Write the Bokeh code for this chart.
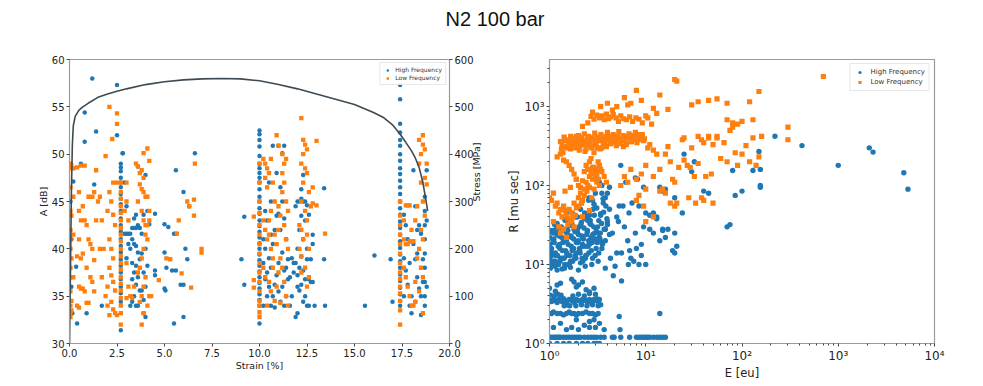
import math
from bokeh.plotting import figure
from bokeh.models import (Range1d, LinearAxis, FixedTicker, PrintfTickFormatter,
                          Div, Legend, LegendItem)
from bokeh.layouts import column, row
from bokeh.embed import file_html
from bokeh.resources import INLINE

# ---------------- data: left panel (A vs strain) ----------------
hf_strain = (
    [1.2, 2.5, 0.8, 1.4, 2.5, 0.8, 0.6, 0.2, 1.3, 0.35, 0.4, 0.9, 0.15, 1.7, 0.05, 0.1, 0.1]
    + [2.7] * 24 + [2.8, 2.8]
    + [2.9, 3.0, 3.1, 3.2, 3.3, 3.4, 3.5, 3.6, 3.7, 3.8, 3.3, 3.4, 3.5, 3.2, 3.6, 3.0, 3.3, 3.5, 3.4, 3.6,
       3.3, 3.5, 3.7, 3.4, 3.2, 3.3, 3.6, 3.9, 4.0, 3.8, 4.0, 3.9, 4.1, 4.0, 3.9, 4.1, 4.0, 3.6, 2.9, 3.0,
       3.1, 3.7, 3.8, 3.4, 3.5, 4.2, 3.9, 3.5, 4.5]
    + [5.6, 6.0, 6.3, 6.6, 5.0, 5.2, 5.6, 5.0, 5.1, 4.5, 5.4, 5.6, 5.0, 5.05, 5.5, 6.0, 6.1, 6.2, 5.85, 6.0,
       9.05, 9.2, 9.2, 4.5, 5.5]
    + [10.0] * 32
    + [10.3, 10.4, 10.2, 10.3, 10.5, 10.4, 10.3, 10.5, 10.4, 10.2, 10.6, 10.7, 10.8, 10.9, 10.6, 10.7, 10.8,
       10.9, 10.6, 10.7, 11.0, 11.2, 11.3, 11.1, 11.2, 11.0, 11.3, 11.1, 11.4, 11.2, 11.0, 11.3, 11.5, 11.2,
       11.4, 11.1, 11.3, 11.6, 11.5, 11.6, 10.5, 10.9, 10.2, 10.8, 11.0, 11.4, 10.6, 11.7, 11.8, 11.7]
    + [12.0, 12.1, 12.2, 12.3, 12.4, 11.9, 12.5, 12.2, 12.3, 12.4, 12.1, 12.3, 12.0, 12.2, 12.5, 11.9, 12.1,
       12.3, 12.0, 12.4, 12.2, 12.6, 12.7, 12.8, 12.1, 12.4, 12.5, 12.6, 12.9, 12.0, 11.9, 12.3, 12.7, 12.8,
       12.6, 12.8, 12.5, 12.2, 12.0, 11.8]
    + [13.4, 13.4, 13.45, 15.55, 16.05, 16.9, 17.0]
    + [17.4] * 30
    + [17.6, 17.7, 17.8, 17.6, 17.7, 17.8, 17.6, 17.9, 18.0, 18.1, 18.2, 18.3, 18.1, 18.2, 18.3, 18.4, 18.5,
       18.6, 18.7, 18.7, 18.7, 18.7, 18.7, 18.7, 18.7, 18.7, 18.7, 18.8, 18.8, 18.8, 18.6, 18.5, 18.4, 18.0,
       17.9, 18.2, 18.5, 18.3]
)
hf_amp = (
    [58.0, 57.3, 54.4, 52.4, 52.0, 51.3, 49.0, 47.1, 46.8, 38.1, 32.1, 33.2, 33.2, 34.0, 45.0, 41.0, 36.0]
    + [49.0, 48.6, 48.2, 47.5, 47.0, 46.5, 45.8, 45.3, 44.7, 44.0, 43.2, 42.5, 41.8, 41.0, 40.3, 39.6,
       38.9, 38.2, 37.5, 36.8, 36.0, 35.3, 34.4, 31.4, 50.1, 50.1]
    + [41.6, 41.6, 41.6, 41.6, 42.2, 42.2, 42.2, 42.5, 42.2, 41.6, 41.0, 40.5, 40.3, 40.0, 39.6, 39.0, 38.5,
       38.2, 37.5, 37.0, 36.8, 36.2, 35.6, 35.0, 34.0, 34.4, 34.0, 33.2, 32.8, 35.6, 36.0, 37.5, 38.2, 40.0,
       43.6, 44.0, 47.8, 48.7, 47.0, 44.5, 40.5, 38.9, 39.5, 43.2, 43.6, 42.6, 34.6, 34.0, 43.7]
    + [48.3, 46.0, 44.5, 50.1, 42.6, 42.3, 41.6, 39.6, 38.0, 37.7, 37.7, 37.7, 35.8, 35.6, 32.1, 32.8, 40.0,
       38.9, 36.2, 36.2, 38.9, 43.4, 36.2, 37.2, 41.6]
    + [52.5, 52.1, 51.5, 50.8, 49.8, 49.0, 48.5, 48.0, 47.5, 47.0, 46.3, 45.5, 45.0, 44.3, 43.7, 43.0, 42.4,
       41.8, 41.2, 40.6, 40.0, 39.4, 38.8, 38.2, 37.6, 37.0, 36.4, 35.8, 35.2, 34.6, 34.0, 32.1]
    + [44.0, 43.0, 41.0, 40.0, 39.0, 37.5, 36.8, 36.0, 35.0, 34.0, 34.0, 35.0, 36.2, 37.2, 38.0, 40.5, 42.0,
       43.5, 45.0, 50.9, 50.9, 50.1, 50.9, 46.5, 45.0, 43.7, 43.2, 42.0, 41.0, 39.6, 38.5, 37.7, 36.8, 36.0,
       35.0, 34.4, 34.0, 34.0, 38.9, 37.0, 47.0, 48.0, 38.5, 33.8, 35.5, 38.0, 41.5, 39.0, 38.5, 35.0]
    + [45.0, 45.0, 45.3, 45.0, 45.0, 44.5, 44.6, 46.3, 47.8, 43.0, 42.0, 41.0, 40.0, 39.2, 38.9, 38.5, 38.0,
       37.7, 37.2, 36.8, 36.2, 36.8, 36.5, 36.5, 35.6, 35.0, 34.0, 34.0, 34.0, 33.2, 32.8, 34.4, 38.9, 40.5,
       43.6, 41.5, 40.0, 43.5, 36.0, 37.5]
    + [46.4, 38.9, 34.0, 34.0, 39.3, 38.9, 34.4]
    + [57.3, 55.8, 53.2, 52.3, 51.5, 50.9, 50.0, 49.3, 48.5, 47.9, 47.2, 46.5, 45.8, 45.0, 44.3, 43.6, 42.9,
       42.2, 41.5, 40.8, 40.1, 39.4, 38.7, 38.0, 37.3, 36.6, 35.9, 35.2, 34.5, 34.0]
    + [43.6, 42.5, 41.0, 39.0, 37.7, 36.2, 35.0, 34.0, 33.2, 48.3, 44.5, 42.0, 40.5, 38.9, 37.0, 35.8, 35.0,
       36.5, 45.5, 44.0, 42.5, 41.0, 39.5, 38.0, 36.5, 35.0, 34.0, 48.3, 43.0, 36.0, 38.9, 41.6, 42.5, 35.0,
       38.5, 34.4, 33.0, 39.5]
)

lf_strain = (
    [0.05] * 14 + [0.1] * 5 + [0.2] * 4
    + [0.4, 0.6, 0.5, 0.7, 0.5, 0.6, 0.8, 0.9, 0.5, 0.4, 0.6, 0.7, 0.9, 0.5, 0.6, 0.7, 0.8, 0.9, 1.0, 0.4,
       0.5, 1.0, 1.1, 1.2, 1.3, 1.1, 1.2, 1.3, 1.4, 1.2, 1.3, 1.5, 1.4, 1.6, 1.7, 1.6, 1.8, 1.7, 1.9, 2.0,
       2.1, 2.2, 2.0, 2.3, 2.4, 2.1, 2.2, 2.3, 2.1, 2.2, 2.3, 2.4, 2.2, 2.3, 2.4, 2.5, 2.1, 2.3, 2.5, 2.1,
       2.5, 2.5, 2.25, 1.9, 1.0, 0.8, 2.0]
    + [2.7] * 20
    + [2.9, 3.0, 3.1, 3.0, 3.1, 3.2, 3.0, 3.3, 3.6, 3.7, 3.8, 3.9, 3.7, 3.8, 3.9, 3.6, 4.0, 3.8, 3.9, 4.0,
       4.1, 4.2, 4.0, 4.1, 3.9, 3.8, 3.7, 3.6, 4.0, 3.9, 3.8, 3.7, 3.9, 3.8, 4.2, 4.1, 3.5, 3.9, 4.1, 4.2,
       4.1, 4.2, 3.4, 4.3, 3.0]
    + [6.6, 6.55, 6.2, 6.55, 6.95, 6.95, 6.4, 5.75, 5.65, 5.3, 5.9, 4.7, 9.7, 9.7, 9.7, 5.1, 6.3]
    + [10.0] * 16
    + [10.2, 10.3, 10.4, 10.5, 10.6, 10.3, 10.4, 10.7, 10.8, 10.6, 10.2, 10.3, 10.5, 10.4, 10.6, 10.7, 10.2,
       10.3, 10.5, 10.6, 10.4, 10.8, 10.9, 11.0, 11.1, 10.9, 11.0, 11.1, 11.2, 11.3, 11.2, 11.3, 11.2, 11.4,
       11.0, 10.9, 11.4, 11.5, 11.3, 11.4, 11.5, 11.2, 11.3, 11.4, 11.1, 11.5, 10.7, 10.8, 10.5, 11.0]
    + [12.2, 12.3, 12.4, 12.3, 12.5, 12.2, 12.4, 12.5, 12.3, 12.6, 12.2, 12.4, 12.5, 12.2, 12.3, 12.1, 12.2,
       12.4, 12.6, 12.5, 12.1, 12.7, 12.8, 12.6, 12.2, 13.0, 13.0, 13.45, 12.8, 12.5]
    + [17.4] * 14
    + [17.6, 17.7, 17.8, 17.9, 17.6, 17.7, 17.8, 17.9, 18.0, 18.1, 17.6, 17.7, 17.8, 17.9, 18.0, 18.1, 18.2,
       18.0, 18.2, 18.3, 18.4, 18.6, 18.6, 18.5, 18.7, 18.4, 18.5, 18.7, 18.8, 18.6, 18.7, 18.5, 18.6, 18.4,
       18.3, 18.5, 18.6, 18.2, 18.4, 18.6, 18.8]
)
lf_amp = (
    [49.0, 48.5, 46.5, 44.0, 43.5, 42.0, 41.0, 40.0, 38.0, 37.0, 35.5, 34.0, 33.2, 32.8,
     48.8, 43.5, 39.0, 34.5, 33.5, 48.5, 45.5, 41.5, 37.0]
    + [48.6, 48.8, 46.0, 44.5, 44.0, 43.0, 43.0, 42.5, 41.0, 39.2, 39.0, 39.5, 38.0, 36.0, 35.8, 35.8, 35.5,
       34.3, 34.3, 34.0, 33.8, 41.0, 40.5, 40.0, 38.8, 37.0, 36.5, 35.5, 43.0, 45.5, 46.0, 45.0, 48.3, 45.5,
       43.0, 40.0, 40.0, 37.0, 35.0, 34.0, 46.0, 45.0, 44.0, 43.6, 42.5, 41.0, 40.0, 39.0, 38.0, 37.2, 36.5,
       35.6, 34.4, 33.6, 33.2, 33.0, 33.0, 47.0, 47.0, 55.0, 54.3, 53.2, 51.6, 49.8, 45.5, 48.8, 36.0]
    + [47.0, 46.0, 45.3, 44.5, 43.8, 43.0, 42.2, 41.5, 40.8, 40.0, 39.2, 38.5, 37.8, 37.0, 36.3, 35.6, 34.8,
       34.0, 33.2, 32.0]
    + [44.0, 45.0, 43.0, 38.5, 36.0, 35.0, 34.8, 34.8, 48.7, 48.0, 48.3, 47.5, 46.8, 46.3, 46.0, 45.0, 45.5,
       44.0, 43.0, 42.5, 42.5, 43.0, 41.5, 41.0, 40.0, 39.0, 38.0, 37.5, 37.0, 36.0, 35.0, 34.4, 33.2, 32.0,
       35.0, 34.0, 49.0, 50.1, 50.6, 49.3, 45.5, 44.0, 36.0, 35.0, 47.0]
    + [49.0, 45.2, 45.0, 43.5, 40.0, 39.6, 35.9, 43.0, 41.6, 38.9, 37.4, 36.7, 43.4, 36.7, 35.9, 39.0, 44.5]
    + [49.0, 47.0, 45.0, 43.8, 42.5, 41.5, 40.5, 39.5, 38.5, 37.5, 36.5, 35.5, 34.5, 34.0, 33.3, 32.8]
    + [49.5, 49.0, 48.5, 48.0, 49.5, 47.5, 46.5, 47.0, 45.0, 44.0, 43.0, 42.0, 41.5, 41.0, 40.0, 39.0, 38.0,
       37.0, 36.5, 35.5, 34.0, 34.5, 36.0, 37.5, 39.0, 40.5, 42.0, 43.5, 46.0, 47.0, 48.0, 49.0, 50.0, 49.5,
       50.9, 52.0, 45.0, 44.0, 42.5, 41.0, 40.0, 38.0, 36.5, 35.0, 34.3, 34.0, 38.0, 41.5, 43.0, 44.5]
    + [53.8, 51.5, 51.0, 50.0, 50.5, 49.0, 48.5, 48.0, 47.0, 46.0, 45.0, 44.0, 43.0, 42.0, 41.0, 40.0, 39.2,
       38.0, 37.0, 36.0, 42.5, 44.5, 44.8, 40.0, 37.5, 51.4, 44.6, 41.6, 46.5, 41.5]
    + [45.0, 43.5, 42.5, 41.5, 40.5, 39.5, 38.5, 37.5, 36.8, 36.0, 35.3, 34.5, 33.5, 32.0]
    + [43.0, 44.6, 44.6, 44.6, 41.0, 40.5, 40.5, 40.8, 40.8, 40.8, 38.0, 37.0, 36.0, 35.0, 34.0, 34.0, 34.4,
       42.0, 43.0, 44.5, 51.5, 52.0, 51.0, 50.0, 50.5, 49.0, 47.0, 47.5, 46.8, 45.0, 43.5, 42.0, 41.0, 40.0,
       39.0, 38.0, 37.0, 36.5, 35.5, 33.2, 49.0]
)

curve_strain = [0.0, 0.05, 0.1, 0.15, 0.2, 0.3, 0.5, 0.7, 1.0, 1.5, 2.0, 2.5, 3.0, 4.0, 5.0, 6.0, 7.0,
                8.0, 9.0, 10.0, 11.0, 12.0, 13.0, 14.0, 15.0, 16.0, 16.5, 17.0, 17.4, 17.7, 18.0,
                18.2, 18.4, 18.6, 18.75, 18.85]
curve_stress = [0, 150, 320, 420, 460, 480, 493, 500, 508, 520, 527, 533, 538, 547, 553, 557, 559,
                560, 559, 555, 547, 538, 527, 516, 505, 488, 478, 462, 442, 425, 407,
                392, 372, 340, 305, 280]

# ---------------- data: right panel (R vs E) ----------------
hf_energy = (
    [1.0, 1.05, 1.1, 1.15, 1.2, 1.25, 1.3, 1.4, 1.5, 1.6, 1.7, 1.8, 1.9, 2.0, 2.1, 2.3, 2.5, 2.7, 2.9, 3.1,
     3.4, 3.7, 4.5, 4.7, 5.5, 6.8, 8.0, 8.5, 9.0, 9.5, 10, 10.5, 11, 12, 13, 14, 15, 16]
    + [1.0, 1.2, 1.4, 1.6, 1.9, 2.2, 2.5, 2.9, 3.1, 3.3]
    + [1.1, 1.3, 1.5, 1.7, 2.0, 2.3, 2.6, 2.9, 3.3, 3.7, 1.9, 2.6, 3.0, 5.3, 5.4, 14]
    + [1.0, 1.05, 1.1, 1.2, 1.3, 1.4, 1.5, 1.6, 1.7, 1.8, 1.9, 2.0, 2.2, 2.4, 2.6, 2.8, 3.0, 3.2]
    + [1.0, 1.05, 1.1, 1.15, 1.2, 1.25, 1.3, 1.35, 1.4, 1.45, 1.5, 1.6, 1.7, 1.8, 1.9, 2.0, 2.1, 2.2, 2.3,
       2.4, 2.5, 2.6, 2.7, 2.8, 2.9, 3.0, 3.1, 3.2, 3.3, 1.02, 1.12, 1.22, 1.32, 1.42, 1.52, 1.62, 1.75,
       1.88, 2.0, 2.15, 2.3, 2.45, 2.6, 2.8, 3.0, 3.2, 3.4]
    + [1.2, 1.3, 1.7, 1.8, 1.9, 2.0, 2.4, 1.0, 4.6, 5.6, 2.2, 1.15, 2.6, 2.9]
    + [1.0, 1.0, 1.02, 1.05, 1.08, 1.1, 1.12, 1.15, 1.18, 1.2, 1.23, 1.26, 1.3, 1.33, 1.36, 1.4, 1.44, 1.48,
       1.52, 1.56, 1.6, 1.65, 1.7, 1.75, 1.8, 1.85, 1.9, 1.95, 2.0, 2.06, 2.12, 2.18, 2.25, 2.32, 2.4, 2.48,
       2.56, 2.65, 2.74, 2.84, 2.94, 3.05, 3.16, 3.28, 3.4, 3.55, 3.7, 3.85, 4.0, 4.2]
    + [1.01, 1.04, 1.07, 1.11, 1.14, 1.17, 1.21, 1.25, 1.29, 1.34, 1.38, 1.43, 1.47, 1.53, 1.58, 1.63, 1.68,
       1.74, 1.79, 1.84, 1.9, 1.97, 2.03, 2.1, 2.17, 2.24, 2.31, 2.39, 2.47, 2.55, 2.63, 2.72, 2.82, 2.92,
       3.02, 3.13, 3.25, 3.37, 3.5, 3.65, 3.8, 3.95]
    + [1.05, 1.15, 1.28, 1.42, 1.57, 1.72, 1.88, 2.05, 2.22, 2.4, 2.6, 2.8, 3.0, 3.25, 3.5, 1.1, 1.3, 1.5,
       1.7, 1.95, 2.2, 2.45, 2.7, 3.1, 1.2, 1.45, 1.75, 2.1, 2.5, 2.9, 3.4, 1.35, 1.65, 2.0, 2.35, 2.75,
       3.2, 1.55, 1.85, 2.15, 2.55, 3.6]
    + [1.0, 1.03, 1.06, 1.09, 1.13, 1.16, 1.19, 1.24, 1.27, 1.31, 1.37, 1.41, 1.46, 1.51, 1.55, 1.61, 1.67,
       1.73, 1.78, 1.83, 1.92, 1.99, 2.08, 2.14, 2.2, 2.28, 2.36, 2.44, 2.52, 2.6, 2.7, 2.78, 2.88, 2.98,
       3.1, 3.22, 3.35, 3.48, 3.62, 3.78]
    + [3.0, 3.5, 4.0, 3.2, 3.5, 2.6, 2.8, 3.3, 4.2, 3.8]
    + [5.5, 6.2, 7.8, 8.2, 9.5, 12, 13, 14, 15, 16, 20, 24, 25, 30, 32, 40, 45, 70, 75, 80,
       85, 100, 130, 150, 155, 155, 155, 220, 420, 1000, 2100, 2300, 4800, 5300]
    + [4.5, 5, 5.2, 5.8, 6.0, 6.5, 6.8, 7.0, 7.5, 8.0, 8.5, 9.0, 9.5, 10, 10, 11, 12, 13, 14, 15, 16, 17, 19,
       20, 21, 9, 6.7, 7.2, 8.5, 4.2, 5.3, 4.8, 5.6, 7.8, 11, 4.0, 3.8, 4.3, 6.6, 3.8, 5.0, 15, 20]
)
hf_rise = (
    [1.2] * 38
    + [1.0] * 10
    + [1.6, 1.8, 1.5, 1.6, 1.5, 1.7, 1.6, 2.0, 1.8, 1.5, 2.0, 1.9, 1.6, 2.2, 1.5, 2.4]
    + [2.4, 2.4, 2.5, 2.4, 2.4, 2.3, 2.4, 2.5, 2.4, 2.4, 2.3, 2.4, 2.4, 2.5, 2.4, 2.4, 2.3, 2.4]
    + [3.5, 3.4, 3.6, 3.5, 3.3, 3.6, 3.5, 3.4, 3.7, 3.5, 3.4, 3.6, 3.5, 3.3, 3.6, 3.5, 3.4, 3.6, 3.5, 3.5,
       3.3, 3.6, 3.5, 3.4, 3.6, 3.5, 3.7, 3.4, 3.6, 4.1, 4.0, 4.2, 4.1, 3.0, 3.1, 3.0, 4.0, 3.0, 4.2, 3.1,
       4.0, 3.0, 4.3, 3.1, 4.2, 3.0, 3.1]
    + [5.5, 5.8, 6.5, 6.0, 5.2, 5.5, 4.8, 5.0, 7.2, 6.2, 6.0, 4.6, 4.5, 5.0]
    + [12, 22, 9, 16, 25, 11, 19, 14, 28, 8.5, 17, 23, 12, 30, 15, 20, 10, 26, 13, 18, 35, 11, 22, 16, 28,
       13, 19, 40, 24, 15, 32, 12, 21, 45, 17, 27, 14, 36, 20, 50, 25, 16, 30, 22, 42, 18, 28, 55, 35, 24]
    + [18, 10, 14, 21, 9.5, 26, 13, 17, 11, 22, 19, 9, 15, 24, 31, 13, 17, 11, 21, 26, 14, 19, 30, 10.5,
       23, 17, 38, 13, 26, 20, 33, 15, 24, 42, 29, 19, 36, 25, 16, 46, 28, 38]
    + [13, 11, 16, 12, 10, 15, 12, 16, 11, 13, 18, 12, 21, 14, 19, 27, 24, 20, 33, 27, 22, 40, 32, 26, 33,
       37, 44, 50, 36, 58, 44, 8.8, 9.2, 8.5, 9.5, 10, 11, 48, 40, 60, 65, 68]
    + [15, 27, 11, 20, 32, 13, 24, 10, 18, 29, 12, 21, 36, 14, 27, 10, 23, 31, 16, 12, 26, 20, 14, 34,
       18, 29, 12, 24, 17, 42, 22, 19, 30, 13, 52, 25, 21, 33, 60, 28]
    + [80, 80, 80, 120, 100, 70, 65, 110, 95, 70]
    + [180, 110, 125, 120, 95, 45, 40, 95, 85, 90, 70, 45, 250, 150, 200, 85, 80, 30, 32, 155,
       75, 85, 155, 270, 160, 95, 100, 420, 320, 180, 300, 265, 145, 90]
    + [25, 40, 35, 55, 30, 20, 15, 12, 11, 16, 10, 13, 30, 10, 45, 42, 25, 38, 20, 28, 22, 28, 15,
       14, 17, 18, 45, 60, 55, 50, 55, 9.5, 14, 25, 28, 32, 20, 12, 10, 9, 14, 27, 25]
)

lf_energy = (
    [1.30, 1.35, 1.42, 1.48, 1.55, 1.60, 1.66, 1.72, 1.80, 1.86, 1.93, 2.00, 2.08, 2.15, 2.22, 2.30, 2.38,
     2.47, 2.55, 2.65, 2.75, 2.85, 2.95, 3.05, 3.15, 3.30, 3.42, 3.55, 3.70, 3.85, 4.00, 4.20, 4.40, 4.60,
     4.80, 5.00, 5.25, 5.50, 5.80, 6.10, 6.40, 6.70, 7.00, 7.40, 7.80, 8.20, 8.70, 9.20, 9.70]
    + [1.33, 1.45, 1.58, 1.70, 1.83, 1.96, 2.10, 2.25, 2.40, 2.58, 2.78, 3.00, 3.22, 3.48, 3.75, 4.05, 4.35,
       4.70, 5.10, 5.50, 6.00, 6.50, 7.10, 7.70, 8.40, 9.00, 1.38, 1.52, 1.65, 1.77, 1.90, 2.04, 2.18, 2.34,
       2.50, 2.70, 2.90, 3.12, 3.36, 3.62, 3.90, 4.25, 4.55, 4.95, 5.35, 5.85, 6.30, 6.90, 7.50, 8.10, 8.80,
       9.50]
    + [2.2, 2.5, 2.7, 2.9, 3.1, 3.3, 3.5, 3.7, 3.9, 4.1, 4.3, 4.6, 4.9, 5.2, 5.5, 5.9, 6.3, 6.8, 7.3, 7.9,
       8.5, 9.2, 10, 2.8, 3.4, 4.0, 4.5, 5.0, 6.0, 6.5, 7.0, 8.0, 9.0, 12, 14, 17, 10.5, 11.5, 13]
    + [1.0, 1.05, 1.1, 1.15, 1.2, 1.25, 1.3, 1.35, 1.4, 1.45, 1.5, 1.55, 1.6, 1.65, 1.7, 1.75, 1.8, 1.9,
       2.0, 2.1, 2.2, 2.3, 2.4, 2.5, 2.6, 2.7, 2.8, 2.9, 3.0, 3.1, 3.2, 3.3, 3.5, 3.7, 3.9, 1.2, 1.3, 1.4,
       1.5, 1.6, 1.7, 1.8, 1.9, 2.0, 2.1, 2.2, 2.3, 2.4, 2.5, 2.6, 2.7, 2.8, 2.9, 3.0, 3.2, 3.4, 1.1, 1.25,
       1.4, 1.55, 1.7, 1.85, 2.0, 2.15, 2.3, 2.45, 2.6, 2.75, 2.9, 3.1, 3.3, 1.3, 1.5, 1.8, 2.2, 2.6, 1.45,
       1.65, 1.9]
    + [5.5, 6, 6.5, 7.0, 8.0, 8.5, 9, 10, 10.5, 11, 12, 13, 14, 15, 16, 17, 18, 19, 20, 21, 22, 24, 25, 27,
       29, 30, 32, 35, 38, 40, 42, 45, 48, 50, 55, 60, 65, 70, 75, 80, 85, 90, 100, 110, 120, 130, 140, 150,
       160, 300, 300, 700, 20, 21, 30, 35, 45, 55, 70, 120, 150, 70, 80, 100, 130, 90, 10, 10, 12, 18, 20,
       28, 33, 40, 50, 12, 14, 16, 9.5, 8, 25, 35, 45, 55, 38]
)
lf_rise = (
    [360, 330, 410, 300, 380, 350, 420, 310, 390, 340, 370, 430, 320, 400, 360, 450, 330, 390, 420, 350,
     300, 380, 460, 340, 410, 370, 440, 390, 350, 420, 470, 380, 410, 440, 360, 400, 480, 390, 430, 370,
     410, 450, 390, 430, 470, 420, 400, 440, 390]
    + [290, 370, 330, 380, 300, 350, 410, 370, 290, 340, 400, 330, 380, 300, 360, 430, 340, 380, 420, 340,
       380, 420, 360, 400, 440, 380, 260, 310, 290, 350, 420, 280, 330, 270, 360, 310, 260, 300, 290, 330,
       310, 340, 360, 320, 350, 310, 330, 360, 380, 350, 410, 370]
    + [560, 620, 750, 690, 780, 720, 760, 680, 800, 700, 740, 790, 720, 650, 760, 700, 680, 740, 650, 720,
       690, 620, 760, 850, 1000, 1100, 900, 1000, 1300, 1050, 1100, 1600, 1200, 950, 1400, 920, 720, 600,
       820]
    + [70, 65, 80, 55, 60, 45, 50, 40, 55, 48, 42, 38, 50, 35, 45, 40, 60, 52, 70, 80, 65, 90, 110, 100,
       130, 150, 120, 170, 160, 140, 200, 180, 150, 130, 110, 230, 250, 210, 200, 180, 160, 140, 120, 100,
       95, 115, 150, 180, 160, 200, 220, 170, 140, 130, 120, 160, 35, 30, 28, 32, 36, 42, 55, 60, 75, 85,
       95, 70, 90, 110, 100, 25, 22, 30, 40, 48, 85, 95, 120]
    + [100, 130, 110, 160, 120, 75, 140, 180, 300, 330, 280, 250, 160, 90, 250, 310, 200, 120, 110, 60,
       170, 380, 210, 180, 170, 300, 130, 190, 70, 350, 130, 400, 140, 330, 400, 220, 350, 200, 500, 550,
       260, 180, 250, 320, 200, 400, 180, 230, 420, 550, 380, 2400, 2200, 2100, 1050, 1150, 1200, 1250,
       1100, 1150, 1550, 680, 620, 650, 680, 600, 90, 35, 40, 60, 55, 70, 60, 65, 60, 130, 85, 80, 55, 65,
       400, 420, 420, 420, 380]
)

x_ticks_left = [0, 2.5, 5, 7.5, 10, 12.5, 15, 17.5, 20]
y_ticks_left = [30, 35, 40, 45, 50, 55, 60]
y_ticks_stress = [0, 100, 200, 300, 400, 500, 600]
log_ticks = [1, 10, 100, 1000, 10000]
log_labels = ["10⁰", "10¹", "10²", "10³", "10⁴"]

BLUE = "#1f77b4"
ORANGE = "#ff7f0e"
FONT = "DejaVu Sans"
SPINE = "#9a9a9a"


def style_axis(ax, size="10px"):
    ax.major_label_text_font = FONT
    ax.major_label_text_font_size = size
    ax.major_label_text_color = "#222222"
    ax.axis_label_text_font = FONT
    ax.axis_label_text_font_style = "normal"
    ax.axis_label_text_color = "#222222"
    ax.axis_line_color = SPINE
    ax.major_tick_line_color = "#444444"
    ax.minor_tick_line_color = "#444444"
    ax.major_tick_in = 0
    ax.major_tick_out = 3
    ax.minor_tick_in = 0
    ax.minor_tick_out = 2
    ax.major_label_standoff = 2
    ax.axis_label_standoff = 0


# ---------------- left figure ----------------
p1 = figure(frame_width=380, frame_height=284, output_backend="svg", toolbar_location=None,
            x_range=Range1d(0, 20), y_range=Range1d(30, 60),
            min_border_left=69, min_border_right=38, min_border_top=21, min_border_bottom=26)
p1.extra_y_ranges = {"stress": Range1d(0, 600)}
p1.grid.visible = False
p1.outline_line_color = SPINE
p1.outline_line_width = 1.2

r_hf1 = p1.scatter(hf_strain, hf_amp, marker="circle", size=4.5, color=BLUE, line_color=None)
r_lf1 = p1.scatter(lf_strain, lf_amp, marker="square", size=4.3, color=ORANGE, line_color=None)
p1.line(curve_strain, curve_stress, y_range_name="stress", line_color="#3e4a52", line_width=1.6)

p1.xaxis.ticker = FixedTicker(ticks=x_ticks_left)
p1.xaxis.formatter = PrintfTickFormatter(format="%.1f")
p1.xaxis.axis_label = "Strain [%]"
p1.yaxis.ticker = FixedTicker(ticks=y_ticks_left)
p1.yaxis.axis_label = "A [dB]"
ax_r = LinearAxis(y_range_name="stress", axis_label="Stress [MPa]",
                  ticker=FixedTicker(ticks=y_ticks_stress))
p1.add_layout(ax_r, "right")
for ax in [p1.xaxis[0], p1.yaxis[0], ax_r]:
    style_axis(ax, "10px")
    ax.axis_label_text_font_size = "9.5px"
ax_r.axis_label_orientation = math.pi / 2

leg1 = Legend(items=[LegendItem(label="High Frequency", renderers=[r_hf1]),
                     LegendItem(label="Low Frequency", renderers=[r_lf1])],
              location="top_right", label_text_font=FONT, label_text_font_size="6px",
              glyph_width=8, glyph_height=6, label_height=6, spacing=1, padding=3,
              margin=3, label_standoff=4, border_line_color="#d0d0d0",
              background_fill_alpha=0.9, label_text_color="#333333")
p1.add_layout(leg1)

# ---------------- right figure ----------------
p2 = figure(frame_width=385, frame_height=284, output_backend="svg", toolbar_location=None,
            x_axis_type="log", y_axis_type="log",
            x_range=Range1d(1, 10000), y_range=Range1d(1, 3940),
            min_border_left=59, min_border_right=16, min_border_top=21, min_border_bottom=26)
p2.grid.visible = False
p2.outline_line_color = SPINE
p2.outline_line_width = 1.2

r_hf2 = p2.scatter(hf_energy, hf_rise, marker="circle", size=5.4, color=BLUE, line_color=None)
r_lf2 = p2.scatter(lf_energy, lf_rise, marker="square", size=5.2, color=ORANGE, line_color=None)

minor_x = [m * 10 ** k for k in range(0, 4) for m in range(2, 10)]
minor_y = [m * 10 ** k for k in range(0, 4) for m in range(2, 10) if m * 10 ** k < 3940]
p2.xaxis.ticker = FixedTicker(ticks=log_ticks, minor_ticks=minor_x)
p2.yaxis.ticker = FixedTicker(ticks=log_ticks[:4], minor_ticks=minor_y)
p2.xaxis.major_label_overrides = {t: l for t, l in zip(log_ticks, log_labels)}
p2.yaxis.major_label_overrides = {t: l for t, l in zip(log_ticks, log_labels)}
p2.xaxis.axis_label = "E [eu]"
p2.yaxis.axis_label = "R [mu sec]"
for ax in [p2.xaxis[0], p2.yaxis[0]]:
    style_axis(ax, "12px")
    ax.axis_label_text_font_size = "11.5px"

leg2 = Legend(items=[LegendItem(label="High Frequency", renderers=[r_hf2]),
                     LegendItem(label="Low Frequency", renderers=[r_lf2])],
              location="top_right", label_text_font=FONT, label_text_font_size="7px",
              glyph_width=10, glyph_height=8, label_height=8, spacing=2, padding=4,
              margin=4, label_standoff=6, border_line_color="#d0d0d0",
              background_fill_alpha=0.9, label_text_color="#333333")
p2.add_layout(leg2)

title = Div(text="N2 100 bar", width=960, height=38, margin=(0, 0, 0, 0),
            styles={"font-family": "Liberation Sans, Arial, sans-serif", "font-size": "20px",
                    "text-align": "center", "color": "#111111", "width": "960px",
                    "padding-top": "5px", "padding-left": "30px"})

layout = column(title, row(p1, p2, spacing=0), spacing=0)
open("out.html", "w").write(file_html(layout, INLINE))
